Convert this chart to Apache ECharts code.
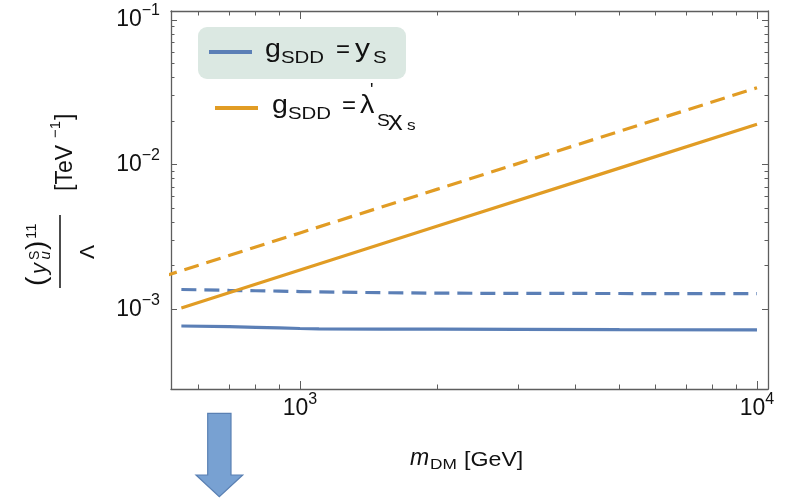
<!DOCTYPE html>
<html>
<head>
<meta charset="utf-8">
<script src="https://cdn.jsdelivr.net/npm/echarts@6/dist/echarts.min.js"></script>
<style>
  html, body { margin: 0; padding: 0; background: #ffffff; }
  #chart { width: 785px; height: 501px; }
</style>
</head>
<body>
<div id="chart"></div>
<script>
// Dark-matter mass (GeV) and upper bounds on (y_u^S)^11 / Lambda (TeV^-1)
const massBlue = [550, 700, 800, 900, 1000, 1100, 1500, 2000, 3000, 5000, 10000];
const blueSolid = [7.66e-4, 7.58e-4, 7.50e-4, 7.43e-4, 7.36e-4, 7.32e-4, 7.30e-4, 7.28e-4, 7.26e-4, 7.23e-4, 7.20e-4];
const blueDashed = [1.37e-3, 1.352e-3, 1.343e-3, 1.335e-3, 1.326e-3, 1.318e-3, 1.302e-3, 1.292e-3, 1.288e-3, 1.285e-3, 1.282e-3];
const massOrangeSolid = [550, 1000, 2000, 5000, 10000];
const orangeSolid = [1.02e-3, 1.87e-3, 3.76e-3, 9.46e-3, 1.90e-2];
const massOrangeDashed = [500, 1000, 2000, 5000, 10000];
const orangeDashed = [1.68e-3, 3.37e-3, 6.77e-3, 1.70e-2, 3.40e-2];

// Axis ranges and tick positions
const xRange = [522, 10570];
const yRange = [2.81e-4, 0.1154];
const xMajorTicks = [1e3, 1e4];
const xMinorTicks = [600, 700, 800, 900, 2000, 3000, 4000, 5000, 6000, 7000, 8000, 9000];
const yMajorTicks = [1e-3, 1e-2, 1e-1];
const yMinorTicks = [2e-3, 3e-3, 4e-3, 5e-3, 6e-3, 7e-3, 8e-3, 9e-3,
                     2e-2, 3e-2, 4e-2, 5e-2, 6e-2, 7e-2, 8e-2, 9e-2];

const BLUE = '#5b7fb6';
const ORANGE = '#e19c24';
const FRAME = '#5e5e5e';
const TEXT = '#111111';
const FONT = '"Liberation Sans", Arial, Helvetica, sans-serif';
const lg = Math.log10;

// Power-of-ten labels drawn as rich text: base "10" plus a raised exponent
const powRich = {
  b: { fontFamily: FONT, fontSize: 23, lineHeight: 23, color: TEXT },
  s: { fontFamily: FONT, fontSize: 16, lineHeight: 16, color: TEXT, padding: [0, 0, 18, 0] }
};
function powLabel(v) {
  const n = Math.round(v);
  return '{b|10}{s|' + (n < 0 ? '\u2212' + (-n) : n) + '}';
}

function makeAxis(position, range, ticks, tickLen, withLine, withLabels, labelMargin) {
  const ax = {
    type: 'value',
    position: position,
    min: lg(range[0]),
    max: lg(range[1]),
    axisLine: { show: withLine, onZero: false, lineStyle: { color: FRAME, width: 1.3 } },
    axisTick: { show: true, inside: true, length: tickLen, customValues: ticks.map(lg),
                lineStyle: { color: FRAME, width: 1 } },
    splitLine: { show: false },
    axisLabel: { show: false }
  };
  if (withLabels) {
    ax.axisLabel = { show: true, customValues: ticks.map(lg), formatter: powLabel,
                     rich: powRich, margin: labelMargin };
  }
  return ax;
}

function toPairs(xs, ys) { return xs.map((m, i) => [lg(m), lg(ys[i])]); }

// Text placed by its baseline
function txt(x, base, text, size, opt) {
  opt = opt || {};
  return {
    type: 'text', x: x, y: base - 0.347 * size, scaleX: opt.sx || 1, silent: true,
    style: {
      text: text, fontFamily: FONT, fontSize: size,
      fontStyle: opt.italic ? 'italic' : 'normal',
      fill: opt.color || TEXT,
      textAlign: opt.align || 'left', align: opt.align || 'left',
      textVerticalAlign: 'middle', verticalAlign: 'middle'
    }
  };
}

const graphics = [
  // legend
  { type: 'rect', shape: { x: 198, y: 27, width: 208, height: 52, r: 9 },
    style: { fill: '#dbe8e2' }, silent: true },
  { type: 'line', shape: { x1: 209, y1: 52, x2: 252, y2: 52 },
    style: { stroke: BLUE, lineWidth: 4 }, silent: true },
  { type: 'line', shape: { x1: 215, y1: 108, x2: 258, y2: 108 },
    style: { stroke: ORANGE, lineWidth: 4 }, silent: true },
  txt(265, 59, 'g', 26, { sx: 1.1 }),
  txt(281, 64.5, 'SDD', 17, { sx: 1.2 }),
  txt(336, 59, '=', 24),
  txt(355, 59, 'y', 26, { sx: 1.15 }),
  txt(373, 64.5, 'S', 17, { sx: 1.2 }),
  txt(272, 115, 'g', 26, { sx: 1.1 }),
  txt(288, 120, 'SDD', 17, { sx: 1.2 }),
  txt(342, 115, '=', 24),
  txt(360, 115, '\u03bb', 25, { sx: 1.15 }),
  txt(370, 97, "'", 18),
  txt(377, 127, 'S', 16, { sx: 1.2 }),
  txt(388, 127, '\u03c7', 20, { sx: 1.4 }),
  txt(407, 131, 's', 15, { sx: 1.15 }),
  // x-axis title
  txt(410, 467, 'm', 23, { italic: true }),
  txt(430, 470, 'DM', 15, { sx: 1.15 }),
  txt(464, 467, '[GeV]', 20, { sx: 1.16 }),
  // y-axis title, rotated to read upwards
  {
    type: 'group', x: 60, y: 288, rotation: Math.PI / 2, silent: true,
    children: [
      txt(2, -13.5, '(', 28),
      txt(14, -12.6, 'y', 22, { italic: true }),
      txt(28, -20, 'S', 14),
      txt(28.5, -9, 'u', 15, { italic: true }),
      txt(38, -13.5, ')', 28),
      txt(49, -23, '11', 15),
      { type: 'line', shape: { x1: 0, y1: 0, x2: 73, y2: 0 }, style: { stroke: TEXT, lineWidth: 1.5 } },
      txt(36, 35, '\u039b', 21, { align: 'center' }),
      txt(97, 13.3, '[TeV', 23),
      txt(150, 0.7, '\u22121', 15),
      txt(168, 13.3, ']', 23)
    ]
  },
  // arrow below the plot
  { type: 'polygon', silent: true,
    shape: { points: [[207.7, 413.3], [231, 413.3], [231, 475], [242.7, 475],
                      [219.3, 496.7], [196, 475], [207.7, 475]] },
    style: { fill: '#78a1d2', stroke: '#5a80b3', lineWidth: 1.2 } }
];

const chart = echarts.init(document.getElementById('chart'), null, { renderer: 'canvas' });
chart.setOption({
  animation: false,
  backgroundColor: '#ffffff',
  grid: { left: 171, top: 11, right: 17, bottom: 112, containLabel: false },
  xAxis: [
    makeAxis('bottom', xRange, xMajorTicks, 8, true, true, 8),
    makeAxis('bottom', xRange, xMinorTicks, 4.5, false, false),
    makeAxis('top', xRange, xMajorTicks, 8, true, false),
    makeAxis('top', xRange, xMinorTicks, 4.5, false, false)
  ],
  yAxis: [
    makeAxis('left', yRange, yMajorTicks, 6, true, true, 11),
    makeAxis('left', yRange, yMinorTicks, 3.5, false, false),
    makeAxis('right', yRange, yMajorTicks, 6, true, false),
    makeAxis('right', yRange, yMinorTicks, 3.5, false, false)
  ],
  series: [
    { name: 'g_SDD = y_S (solid)', type: 'line', xAxisIndex: 0, yAxisIndex: 0,
      data: toPairs(massBlue, blueSolid), showSymbol: false, clip: true,
      lineStyle: { color: BLUE, width: 3.2 } },
    { name: 'g_SDD = y_S (dashed)', type: 'line', xAxisIndex: 0, yAxisIndex: 0,
      data: toPairs(massBlue, blueDashed), showSymbol: false, clip: true,
      lineStyle: { color: BLUE, width: 3.2, type: [15, 8] } },
    { name: 'g_SDD = lambda (solid)', type: 'line', xAxisIndex: 0, yAxisIndex: 0,
      data: toPairs(massOrangeSolid, orangeSolid), showSymbol: false, clip: true,
      lineStyle: { color: ORANGE, width: 3.2 } },
    { name: 'g_SDD = lambda (dashed)', type: 'line', xAxisIndex: 0, yAxisIndex: 0,
      data: toPairs(massOrangeDashed, orangeDashed), showSymbol: false, clip: true,
      lineStyle: { color: ORANGE, width: 3.2, type: [15, 8] } }
  ],
  graphic: { elements: graphics }
});
</script>
</body>
</html>
